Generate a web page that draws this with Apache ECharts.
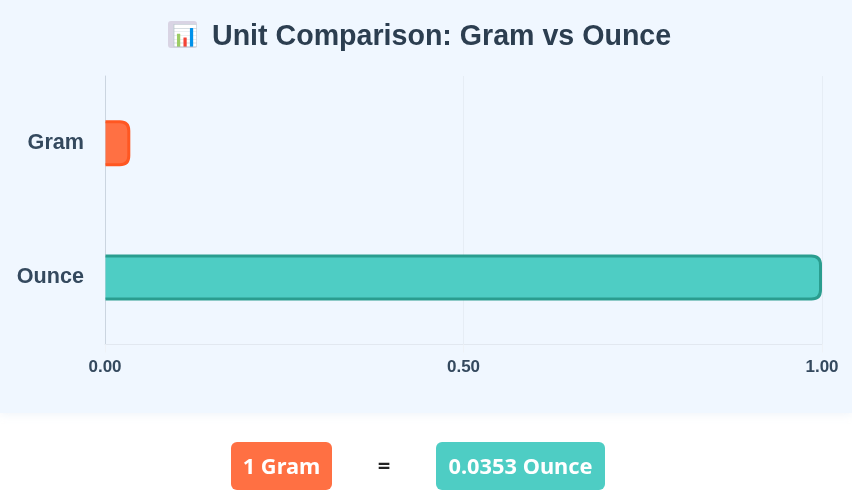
<!DOCTYPE html>
<html><head><meta charset="utf-8">
<style>html,body{margin:0;padding:0;background:#fff}#c{width:852px;height:503px}</style>
<script src="https://cdn.jsdelivr.net/npm/echarts@6/dist/echarts.min.js"></script>
</head><body><div id="c"></div>
<script>
const titleIcon = "📊";
const titleText = "Unit Comparison: Gram vs Ounce";
const categories = ["Gram", "Ounce"];
const values = [0.0353, 1];
const xTicks = { min: 0, max: 1, interval: 0.5 };
const leftBadge = "1 Gram";
const equalsSign = "=";
const rightBadge = "0.0353 Ounce";
const fills = ["#ff7043", "#4ecdc4"];
const borders = ["#ff5722", "#2a9d8f"];

const chart = echarts.init(document.getElementById('c'), null, {renderer:'canvas'});
const foot = "'Noto Sans','Open Sans',sans-serif";
const barHeight = 46, borderW = 3, radius = 9;
chart.setOption({
  animation:false,
  backgroundColor:'#ffffff',
  title:{text:'{e|'+titleIcon+'}{t|'+titleText+'}',left:167,top:18,
    textStyle:{rich:{
      e:{fontSize:21,padding:[0,14,0,0],fontFamily:"'Liberation Sans'"},
      t:{fontFamily:"'Liberation Sans'",fontSize:28.6,fontWeight:'bold',color:'#2c3e50'}}}},
  grid:{left:105,right:30,top:76,bottom:158.5,containLabel:false},
  xAxis:{type:'value',min:xTicks.min,max:xTicks.max,interval:xTicks.interval,
    axisLine:{show:true,lineStyle:{color:'#e2e8f0',width:1}},
    axisTick:{show:true,length:8,lineStyle:{color:'#eef2f7'}},
    splitLine:{show:true,lineStyle:{color:'#e6edf5',width:1}},
    axisLabel:{margin:14,formatter:v=>v.toFixed(2),fontFamily:"'Liberation Sans'",fontSize:17,fontWeight:'bold',color:'#34495e'}},
  yAxis:{type:'category',inverse:true,data:categories,
    axisLine:{show:true,lineStyle:{color:'#cbd5e0',width:1}},
    axisTick:{show:false},
    axisLabel:{margin:21,fontFamily:"'Liberation Sans'",fontSize:21.6,fontWeight:'bold',color:'#34495e'}},
  series:[{type:'custom',encode:{x:0,y:1},
    data:values.map((v,i)=>[v,i]),
    renderItem:function(params,api){
      const i=api.value(1);
      const p0=api.coord([0,i]), p1=api.coord([api.value(0),i]);
      const x0=p0[0]+0.5, x1=p1[0]-borderW/2, yc=p1[1];
      const t=yc-barHeight/2+borderW/2, b=yc+barHeight/2-borderW/2, r=radius;
      const d=`M${x0} ${t}L${x1-r} ${t}Q${x1} ${t} ${x1} ${t+r}L${x1} ${b-r}Q${x1} ${b} ${x1-r} ${b}L${x0} ${b}`;
      return {type:'path',shape:{pathData:d,layout:'center',x:x0,y:t,width:x1-x0,height:b-t},
        style:{fill:fills[i],stroke:borders[i],lineWidth:borderW}};
    }}],
  graphic:[
    {type:'rect',z:-10,silent:true,shape:{x:0,y:0,width:852,height:413},style:{fill:'#f0f7ff',shadowBlur:8,shadowColor:'rgba(200,215,235,0.25)',shadowOffsetY:2}},
    {type:'rect',z:-5,silent:true,shape:{x:168,y:21,width:29,height:27,r:3},style:{fill:'#d9d4e4'}},
    {type:'rect',shape:{x:231,y:442,width:101,height:48,r:6},style:{fill:fills[0]}},
    {type:'text',style:{x:281.5,y:468,text:leftBadge,align:'center',verticalAlign:'middle',fill:'#fff',font:"bold 21.8px "+foot}},
    {type:'text',style:{x:384,y:467,text:equalsSign,align:'center',verticalAlign:'middle',fill:'#222',font:"bold 22px "+foot}},
    {type:'rect',shape:{x:436,y:442,width:169,height:48,r:6},style:{fill:fills[1]}},
    {type:'text',style:{x:520.5,y:468,text:rightBadge,align:'center',verticalAlign:'middle',fill:'#fff',font:"bold 21.8px "+foot}}
  ]
});
</script></body></html>
